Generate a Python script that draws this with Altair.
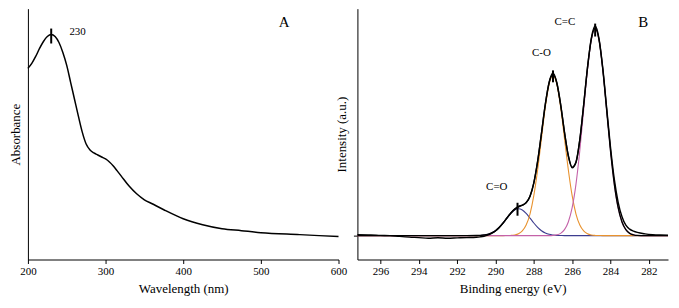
import altair as alt
import pandas as pd

# ---------------- Panel A : UV-vis absorbance ----------------
wavelength = [200, 205, 210, 215, 220, 225, 230, 235, 240, 245, 250, 255, 260, 265,
              270, 275, 280, 285, 290, 295, 300, 305, 310, 315, 320, 330, 340, 350,
              360, 375, 400, 425, 450, 475, 500, 550, 600]
absorbance = [1.92, 1.97, 2.04, 2.12, 2.19, 2.24, 2.26, 2.24, 2.18, 2.08, 1.95, 1.78,
              1.61, 1.44, 1.28, 1.16, 1.10, 1.07, 1.05, 1.03, 1.01, 0.98, 0.94, 0.89,
              0.84, 0.74, 0.66, 0.60, 0.56, 0.50, 0.41, 0.35, 0.31, 0.29, 0.27, 0.25, 0.23]
peakA_x = [230]
peakA_lo = [2.17]
peakA_hi = [2.32]

# ---------------- Panel B : XPS C1s ----------------
ev = [297.2, 296.5, 296.0, 295.5, 295.0, 294.5, 294.0, 293.5, 293.0, 292.5, 292.0, 291.5,
      291.0, 290.8, 290.6, 290.4, 290.2, 290.0, 289.8, 289.6, 289.4, 289.2, 289.0, 288.8,
      288.6, 288.4, 288.2, 288.0, 287.8, 287.6, 287.4, 287.2, 287.0, 286.8, 286.6, 286.4,
      286.2, 286.0, 285.8, 285.6, 285.4, 285.2, 285.0, 284.8, 284.6, 284.4, 284.2, 284.0,
      283.8, 283.6, 283.4, 283.2, 283.0, 282.8, 282.6, 282.2, 281.8, 281.4, 281.0]
c_eq_o = [0]*12 + [0.1, 0.2, 0.6, 1.3, 2.7, 4.9, 8.3, 12.7, 17.6, 22.3, 25.8, 27.0,
                   25.8, 22.3, 17.6, 12.7, 8.3, 4.9, 2.7, 1.3, 0.6, 0.2, 0.1] + [0]*20 + [0]*4
c_o = [0]*12 + [0, 0, 0, 0, 0, 0, 0, 0, 0.1, 0.2, 0.6, 1.8, 4.7, 10.6, 21.7, 40.1, 66.2,
                97.7, 129.0, 152.3, 161.0, 152.3, 129.0, 97.7, 66.2, 40.1, 21.7, 10.6,
                4.7, 1.8, 0.6, 0.2, 0.1, 0] + [0]*9 + [0]*4
c_eq_c = [0]*12 + [0]*20 + [0.2, 0.8, 2.3, 6.0, 13.7, 28.1, 51.8, 85.5, 126.3, 166.6,
                            196.8, 208.0, 196.8, 166.6, 126.3, 85.5, 51.8, 28.1, 13.7,
                            6.0, 2.3, 0.8, 0.2] + [0]*4
envelope = [0]*12 + [0.1, 0.2, 0.6, 1.3, 2.7, 4.9, 8.3, 12.7, 17.7, 22.5, 26.4, 28.8,
                     30.5, 32.9, 39.3, 52.8, 74.5, 102.6, 131.7, 153.6, 161.8, 153.3,
                     131.4, 103.7, 79.9, 68.2, 73.5, 96.1, 131.0, 168.4, 197.4, 208.2,
                     196.9, 166.6, 126.3, 85.5, 51.8, 28.1, 13.7, 6.0, 2.3, 0.8, 0.2] + [0]*4
raw = [1.0, 0.8, 0.3, 0.0, -0.8, -1.5, -2.0, -2.6, -2.2, -2.6, -2.3, -2.0,
       -1.6, -1.2, -0.6, 0.5, 2.2, 4.6, 8.2, 12.8, 17.8, 22.8, 26.6, 29.5,
       30.6, 33.2, 39.6, 53.0, 74.8, 103.0, 132.0, 154.2, 163.5, 153.6, 131.8, 104.0,
       80.5, 68.8, 74.0, 96.6, 131.5, 169.0, 198.5, 210.5, 198.0, 168.0, 128.5, 89.0,
       56.5, 33.5, 19.0, 10.5, 6.5, 4.5, 3.2, 1.8, 1.0, 0.6, 0.4]
peakB_x = [288.85, 287.0, 284.8]
peakB_lo = [20, 154, 200]
peakB_hi = [33, 166, 213]

labelsB = ["C=O", "C-O", "C=C"]
labelsB_x = [289.93, 287.6, 286.38]
labelsB_y = [49, 183, 215]

FONT = "'Liberation Serif', 'Times New Roman', 'DejaVu Serif', serif"

H = 252
W = 312

# ---------- Panel A chart ----------
dfA = pd.DataFrame({"wavelength": wavelength, "absorbance": absorbance})
xA_scale = alt.Scale(domain=[200, 600], nice=False, zero=False)
yA_scale = alt.Scale(domain=[0, 2.52], nice=False, zero=False)

lineA = alt.Chart(dfA).mark_line(color="black", strokeWidth=1.5, interpolate="monotone").encode(
    x=alt.X("wavelength:Q", scale=xA_scale,
            axis=alt.Axis(title="Wavelength (nm)",
                          values=[200, 250, 300, 350, 400, 450, 500, 550, 600],
                          labelExpr="datum.value % 100 === 0 ? datum.label : ''",
                          tickSize=4, labelPadding=2, titlePadding=6, labelFlush=False)),
    y=alt.Y("absorbance:Q", scale=yA_scale,
            axis=alt.Axis(title="Absorbance", labels=False, ticks=False, titlePadding=5)),
)
ruleA = alt.Chart(pd.DataFrame({"x": peakA_x, "lo": peakA_lo, "hi": peakA_hi})).mark_rule(
    color="black", strokeWidth=2).encode(x="x:Q", y="lo:Q", y2="hi:Q")
textA = alt.Chart(pd.DataFrame({"t": ["230", "A"], "x": [264, 530], "y": [2.29, 2.39],
                                "s": [11, 15]})).mark_text(
    font=FONT, color="black").encode(
    x="x:Q", y="y:Q", text="t:N", size=alt.Size("s:Q", scale=None, legend=None))

panelA = alt.layer(lineA, ruleA, textA).properties(width=W, height=H)

# ---------- Panel B chart ----------
xB_scale = alt.Scale(domain=[281.0, 297.2], reverse=True, nice=False, zero=False)
yB_scale = alt.Scale(domain=[-24, 228], nice=False, zero=False)
xB_axis = alt.Axis(title="Binding energy (eV)", values=[282, 284, 286, 288, 290, 292, 294, 296],
                   format="d", tickSize=4, labelPadding=2, titlePadding=6, labelFlush=False)
yB_axis = alt.Axis(title="Intensity (a.u.)", values=[0], labels=False, tickSize=4, titlePadding=4)

comp_rows = []
for name, vals in [("C=O", c_eq_o), ("C-O", c_o), ("C=C", c_eq_c)]:
    for e, v in zip(ev, vals):
        comp_rows.append({"ev": e, "val": v, "series": name})
dfComp = pd.DataFrame(comp_rows)

black_rows = []
for name, vals in [("fit", envelope), ("raw", raw)]:
    for e, v in zip(ev, vals):
        black_rows.append({"ev": e, "val": v, "series": name})
dfBlack = pd.DataFrame(black_rows)

comps = alt.Chart(dfComp).mark_line(strokeWidth=1.1, interpolate="monotone").encode(
    x=alt.X("ev:Q", scale=xB_scale, axis=xB_axis),
    y=alt.Y("val:Q", scale=yB_scale, axis=yB_axis),
    color=alt.Color("series:N", scale=alt.Scale(domain=["C=O", "C-O", "C=C"],
                                                range=["#3d3d8f", "#e8922e", "#c462a8"]),
                    legend=None),
)
blacks = alt.Chart(dfBlack).mark_line(strokeWidth=1.4, color="black", interpolate="monotone").encode(
    x=alt.X("ev:Q", scale=xB_scale, axis=xB_axis),
    y=alt.Y("val:Q", scale=yB_scale, axis=yB_axis),
    detail="series:N",
)
ruleB = alt.Chart(pd.DataFrame({"x": peakB_x, "lo": peakB_lo, "hi": peakB_hi})).mark_rule(
    color="black", strokeWidth=2).encode(x="x:Q", y="lo:Q", y2="hi:Q")
textB = alt.Chart(pd.DataFrame({"t": labelsB, "x": labelsB_x, "y": labelsB_y})).mark_text(
    font=FONT, fontSize=11, color="black").encode(x="x:Q", y="y:Q", text="t:N")
textB2 = alt.Chart(pd.DataFrame({"t": ["B"], "x": [282.29], "y": [215]})).mark_text(
    font=FONT, fontSize=15, color="black").encode(x="x:Q", y="y:Q", text="t:N")

panelB = alt.layer(comps, blacks, ruleB, textB, textB2).properties(width=W, height=H)

chart = alt.hconcat(panelA, panelB, spacing=19, bounds="flush").properties(
    padding={"left": 2, "top": 0, "right": 0, "bottom": 0}
).configure_axis(
    labelFont=FONT, titleFont=FONT, labelFontSize=11, titleFontSize=13,
    titleFontWeight="normal", labelColor="black", titleColor="black",
    domainColor="black", tickColor="black", domainWidth=1, tickWidth=1, grid=False,
).configure_view(stroke=None)

chart.save("out.html", embed_options={"renderer": "svg", "actions": False})
